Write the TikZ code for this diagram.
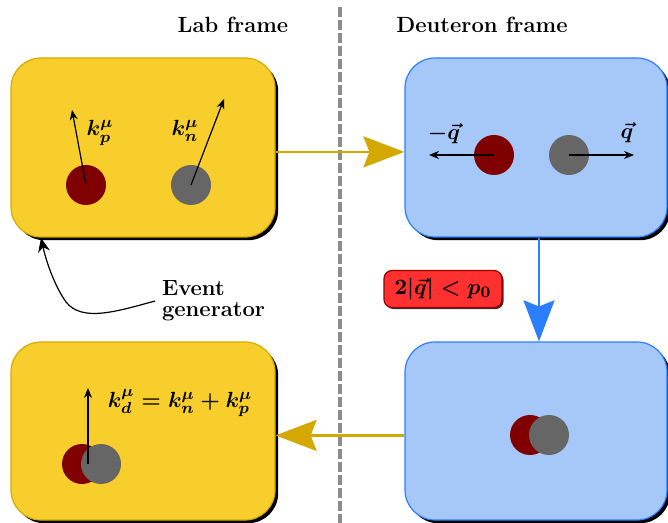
\documentclass[tikz,border=0pt]{standalone}
\usetikzlibrary{arrows.meta,shadows}
\definecolor{ybox}{RGB}{248,206,44}
\definecolor{yedge}{RGB}{215,170,0}
\definecolor{yarrow}{RGB}{212,168,0}
\definecolor{bbox}{RGB}{166,200,248}
\definecolor{bedge}{RGB}{43,127,255}
\definecolor{proton}{RGB}{128,0,0}
\definecolor{neutron}{RGB}{102,102,102}
\definecolor{cutred}{RGB}{255,48,48}
\definecolor{cutedge}{RGB}{150,0,0}
\definecolor{dashgray}{RGB}{140,140,140}
\begin{document}
\begin{tikzpicture}[x=0.5pt,y=-0.5pt,
  font=\fontsize{11}{13}\selectfont\bfseries\boldmath,
  framebox/.style={rounded corners=15pt, line width=0.6pt, inner sep=0pt,
    drop shadow={shadow xshift=1.6pt,shadow yshift=-1.6pt,opacity=1,fill=black}},
  labbox/.style={framebox, fill=ybox, draw=yedge},
  deubox/.style={framebox, fill=bbox, draw=bedge},
  pball/.style={circle, fill=proton, minimum size=20pt, inner sep=0pt},
  nball/.style={circle, fill=neutron, minimum size=20pt, inner sep=0pt},
  thinarrow/.style={line width=0.6pt, -{Stealth[length=5pt,width=4pt]}},
  bigarrow/.style={line width=1.3pt, -{Stealth[length=20.5pt,width=15.5pt,inset=3pt]}},
  cutbox/.style={rounded corners=4pt, fill=cutred, draw=cutedge, line width=0.6pt,
    minimum width=59pt, minimum height=18.5pt, inner sep=0pt,
    drop shadow={shadow xshift=0.8pt,shadow yshift=-0.8pt,opacity=1,fill=black!80}},
  dashline/.style={draw=dashgray, line width=2pt, dash pattern=on 5pt off 1.5pt}
]
\useasboundingbox (0,0) rectangle (668,523);

% dividing line
\coordinate (dtop) at (340,7);
\coordinate (dbot) at (340,523);
\draw[dashline] (dtop) -- (dbot);

% titles
\node (labtitle) at (233,25) {Lab frame};
\node (deutitle) at (482,25) {Deuteron frame};

% boxes
\node[labbox, minimum width=132pt, minimum height=89.5pt] (lab1) at (143,147.5) {};
\node[deubox, minimum width=131pt, minimum height=89.5pt] (deu1) at (536,147.5) {};
\node[labbox, minimum width=132pt, minimum height=89pt] (lab2) at (143,431) {};
\node[deubox, minimum width=131pt, minimum height=89pt] (deu2) at (536,431) {};

% box 1 contents
\node[pball] (p1) at (86,185) {};
\node[nball] (n1) at (191,185) {};
\coordinate (kp) at (72,110);
\coordinate (kn) at (224,99);
\draw[thinarrow] (p1.center) -- (kp);
\draw[thinarrow] (n1.center) -- (kn);
\node (kplabel) at (100,133) {$k_p^\mu$};
\node (knlabel) at (185,131) {$k_n^\mu$};

% box 2 contents
\node[pball] (p2) at (494,155) {};
\node[nball] (n2) at (569,155) {};
\coordinate (mq) at (429,155);
\coordinate (pq) at (634,155);
\draw[thinarrow] (p2.center) -- (mq);
\draw[thinarrow] (n2.center) -- (pq);
\node (mqlabel) at (444,134) {$-\vec{q}$};
\node (pqlabel) at (627,133) {$\vec{q}$};

% box 4 contents
\node[pball] (p4) at (530,435) {};
\node[nball] (n4) at (549,435) {};

% box 3 contents
\node[pball] (p3) at (82,464) {};
\node[nball] (n3) at (101,464) {};
\coordinate (kd) at (88,388);
\coordinate (kdstart) at (88,464);
\draw[thinarrow] (kdstart) -- (kd);
\node (kdlabel) at (180,403) {$k_d^\mu = k_n^\mu + k_p^\mu$};

% flow arrows
\draw[bigarrow, draw=yarrow, fill=yarrow] ([yshift=-2.2pt]lab1.east) -- ([yshift=-2.2pt]deu1.west);
\draw[bigarrow, draw=bedge, fill=bedge] ([xshift=1.5pt]deu1.south) -- ([xshift=1.5pt]deu2.north);
\draw[bigarrow, draw=yarrow, fill=yarrow] ([yshift=-2.2pt]deu2.west) -- ([yshift=-2.2pt]lab2.east);

% cut label
\node[cutbox] (cut) at (443,289) {$2|\vec{q}| < p_0$};

% event generator
\node[align=left, anchor=west, font=\fontsize{11}{10.5}\selectfont\bfseries] (evgen) at (155,301) {Event\\generator};
\coordinate (evtip) at (41,238);
\draw[line width=0.6pt, -{Stealth[length=7pt,width=6pt]}] (evgen.west)
  .. controls (115,312) and (82,322) .. (66,302)
  .. controls (56,288) and (47,265) .. (evtip);
\end{tikzpicture}
\end{document}
